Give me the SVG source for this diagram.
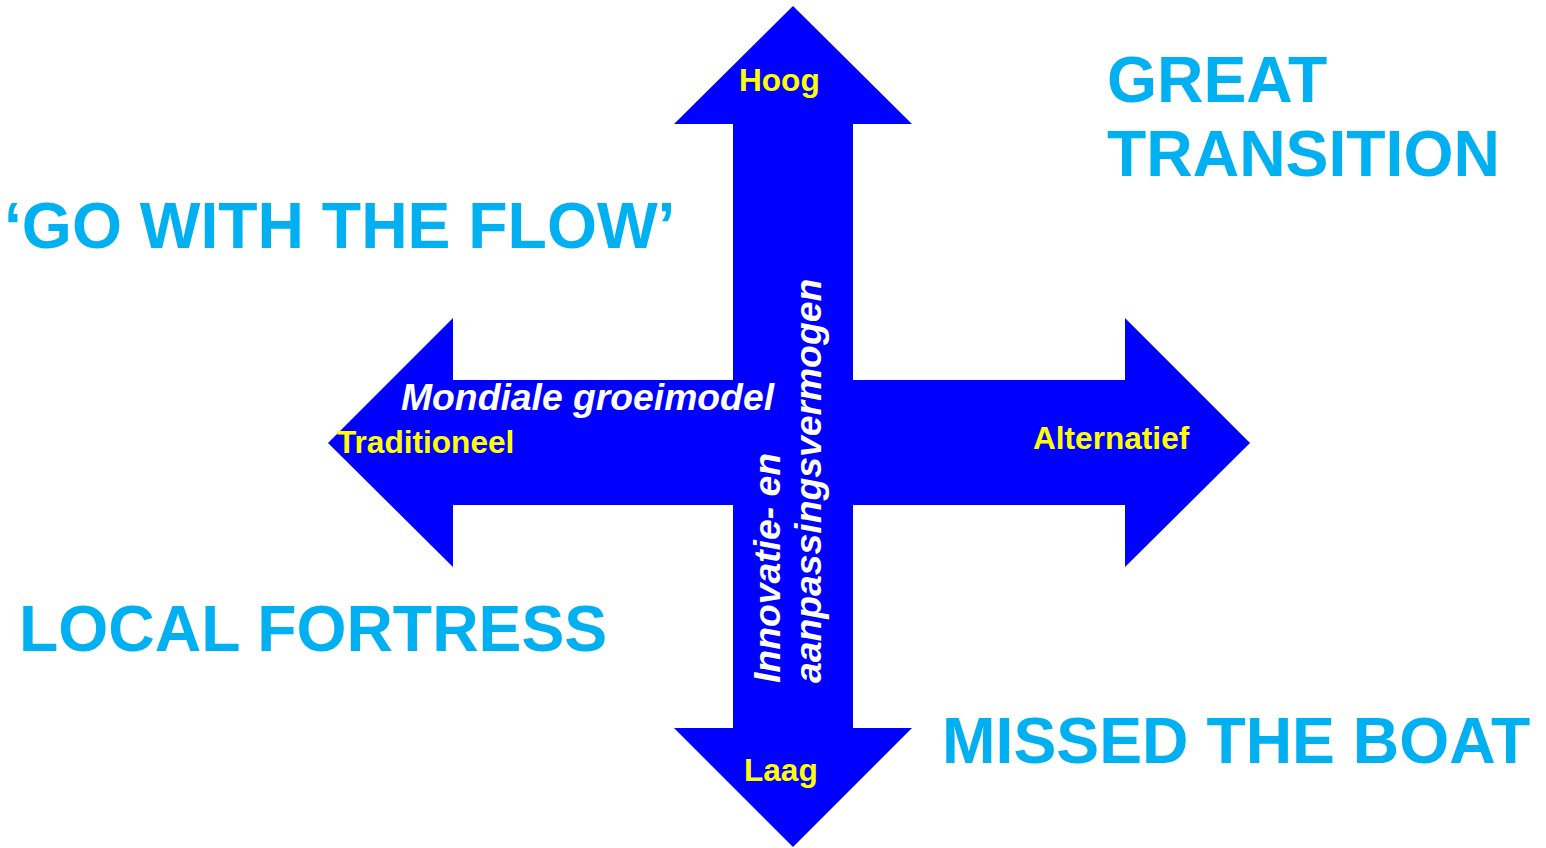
<svg xmlns="http://www.w3.org/2000/svg" width="1546" height="848" viewBox="0 0 1546 848">
<style>
.arrow{fill:#0000ff;stroke:none}
.q{font-family:"Liberation Sans",Arial,sans-serif;font-weight:bold;font-size:64.3px;fill:#00b0f0}
.y{font-family:"Liberation Sans",Arial,sans-serif;font-weight:bold;font-size:31.6px;fill:#ffff00}
.w{font-family:"Liberation Sans",Arial,sans-serif;font-weight:bold;font-style:italic;font-size:37.3px;fill:#ffffff}
</style>
<rect x="0" y="0" width="1546" height="848" fill="#ffffff"/>
<g id="connectors">
  <polygon id="axis-horizontal" class="arrow" points="328,443 453,318 453,380 1125,380 1125,318 1250,443 1125,567 1125,505 453,505 453,567"/>
  <polygon id="axis-vertical" class="arrow" points="793,6 912,124 853,124 853,728 912,728 793,847 674,728 733,728 733,124 674,124"/>
</g>
<g id="axis-labels">
  <text id="hoog" class="y" x="739" y="91">Hoog</text>
  <text id="laag" class="y" x="744" y="781">Laag</text>
  <text id="traditioneel" class="y" x="337" y="453">Traditioneel</text>
  <text id="alternatief" class="y" x="1033" y="449">Alternatief</text>
  <text id="mondiale" class="w" x="401" y="410">Mondiale groeimodel</text>
  <g id="innovatie" transform="translate(780,683) rotate(-90)">
    <text class="w" x="0" y="0">Innovatie- en</text>
    <text class="w" x="0" y="41">aanpassingsvermogen</text>
  </g>
</g>
<g id="quadrant-go-with-the-flow"><text class="q" x="4" y="248">‘GO WITH THE FLOW’</text></g>
<g id="quadrant-great-transition"><text class="q" x="1107" y="102">GREAT</text><text class="q" x="1107" y="176">TRANSITION</text></g>
<g id="quadrant-local-fortress"><text class="q" x="19" y="651">LOCAL FORTRESS</text></g>
<g id="quadrant-missed-the-boat"><text class="q" x="942" y="763">MISSED THE BOAT</text></g>
</svg>
